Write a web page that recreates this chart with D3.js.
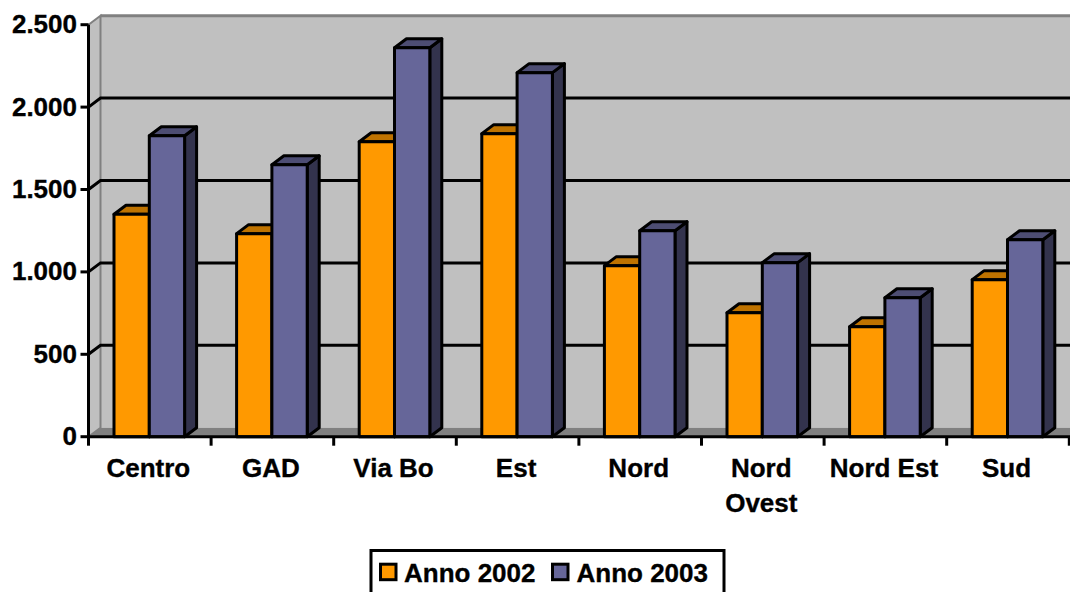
<!DOCTYPE html>
<html>
<head>
<meta charset="utf-8">
<script src="https://cdn.jsdelivr.net/npm/d3@7/dist/d3.min.js"></script>
<style>
html,body{margin:0;padding:0;background:#fff;overflow:hidden}
text{font-family:"Liberation Sans",Arial,sans-serif;font-weight:bold;fill:#000;stroke:#000;stroke-width:.35px}
</style>
</head>
<body>
<svg id="chart" width="1070" height="592"></svg>
<script>
const categories = [["Centro"],["GAD"],["Via Bo"],["Est"],["Nord"],["Nord","Ovest"],["Nord Est"],["Sud"]];
const anno2002 = [1350,1232,1790,1839,1038,752,667,953];
const anno2003 = [1826,1650,2360,2209,1250,1056,843,1195];
const yTicks = [0,500,1000,1500,2000,2500];
const seriesNames = ["Anno 2002","Anno 2003"];

const fmt = v => d3.format(",")(v).replace(/,/g,".");
const svg = d3.select("#chart");
const FS = 26, DX = 12, DY = 9;
const x = d3.scaleBand().domain(d3.range(categories.length)).range([88.5,1069.3]);
const y = d3.scaleLinear().domain([0,2500]).range([436.7,24.7]);
const barW = 35.3, barOffset = 25.5;
const pts = a => a.map(p => p.join(",")).join(" ");

// Back wall, side wall and floor of the 3D plot box
const W0 = x.range()[0], W1 = 1070, Y0 = y(0), Y1 = y(2500);
svg.append("polygon").attr("points",pts([[W0+DX,Y1-DY],[W1,Y1-DY],[W1,Y0-DY],[W0+DX,Y0-DY]]))
  .attr("fill","#c0c0c0");
svg.append("line").attr("x1",W0+DX).attr("x2",W1).attr("y1",Y1-DY).attr("y2",Y1-DY)
  .attr("stroke","#808080").attr("stroke-width",3);
svg.append("polygon").attr("points",pts([[W0,Y1],[W0+DX,Y1-DY],[W0+DX,Y0-DY],[W0,Y0]]))
  .attr("fill","#c0c0c0").attr("stroke","#808080").attr("stroke-width",2);
svg.append("polygon").attr("points",pts([[W0,Y0],[W0+DX,Y0-DY],[W1,Y0-DY],[W1,Y0]]))
  .attr("fill","#808080");

// Gridlines on the back wall, folding down the side wall to the axis
yTicks.filter(t => t>0 && t<2500).forEach(t => {
  svg.append("polyline").attr("fill","none").attr("stroke","#000").attr("stroke-width",3)
    .attr("points",pts([[W0,y(t)],[W0+DX,y(t)-DY],[W1,y(t)-DY]]));
});

// Bars: front face, top face and right side
const applyStroke = s => s.attr("stroke","#000").attr("stroke-width",3).attr("stroke-linejoin","round");
function bar(xl, v, front, top, side){
  const t = y(v), xr = xl+barW, b = y(0);
  applyStroke(svg.append("polygon")).attr("fill",side)
    .attr("points",pts([[xr,t],[xr+DX,t-DY],[xr+DX,b-DY],[xr,b]]));
  applyStroke(svg.append("polygon")).attr("fill",top)
    .attr("points",pts([[xl,t],[xl+DX,t-DY],[xr+DX,t-DY],[xr,t]]));
  applyStroke(svg.append("rect")).attr("fill",front)
    .attr("x",xl).attr("y",t).attr("width",barW).attr("height",b-t);
}
categories.forEach((c,i) => {
  const x0 = x(i)+barOffset;
  bar(x0, anno2002[i], "#ff9900", "#bf7300", "#804d00");
  bar(x0+barW, anno2003[i], "#666699", "#4d4d73", "#33334d");
});

// Axes
const axis = svg.append("g");
axis.append("line").attr("x1",W0).attr("x2",W0).attr("y1",Y1).attr("y2",Y0+1.5)
  .attr("stroke","#000").attr("stroke-width",3);
axis.append("line").attr("x1",W0).attr("x2",W1).attr("y1",Y0).attr("y2",Y0)
  .attr("stroke","#000").attr("stroke-width",3);
yTicks.forEach(t => {
  axis.append("line").attr("x1",W0-8).attr("x2",W0).attr("y1",y(t)).attr("y2",y(t))
    .attr("stroke","#000").attr("stroke-width",3);
  axis.append("text").attr("x",W0-11.5).attr("y",y(t)+8.5).attr("text-anchor","end")
    .attr("font-size",FS).text(fmt(t));
});
d3.range(categories.length+1).forEach(i => {
  const px = i<categories.length ? x(i) : x.range()[1];
  axis.append("line").attr("x1",px).attr("x2",px).attr("y1",Y0).attr("y2",Y0+9)
    .attr("stroke","#000").attr("stroke-width",3);
});
categories.forEach((c,i) => {
  const t = axis.append("text").attr("text-anchor","middle").attr("font-size",FS);
  c.forEach((line,j) => t.append("tspan").attr("x",x(i)+x.bandwidth()/2-1.5).attr("y",477+j*35).text(line));
});

// Legend
svg.append("rect").attr("x",371).attr("y",550.5).attr("width",353).attr("height",50)
  .attr("fill","#fff").attr("stroke","#000").attr("stroke-width",3);
[["#ff9900",380.5,404],["#666699",552.5,576.5]].forEach((d,i) => {
  svg.append("rect").attr("x",d[1]).attr("y",564.2).attr("width",15.5).attr("height",15.5)
    .attr("fill",d[0]).attr("stroke","#000").attr("stroke-width",3);
  svg.append("text").attr("x",d[2]).attr("y",581.5).attr("font-size",FS).text(seriesNames[i]);
});
</script>
</body>
</html>
